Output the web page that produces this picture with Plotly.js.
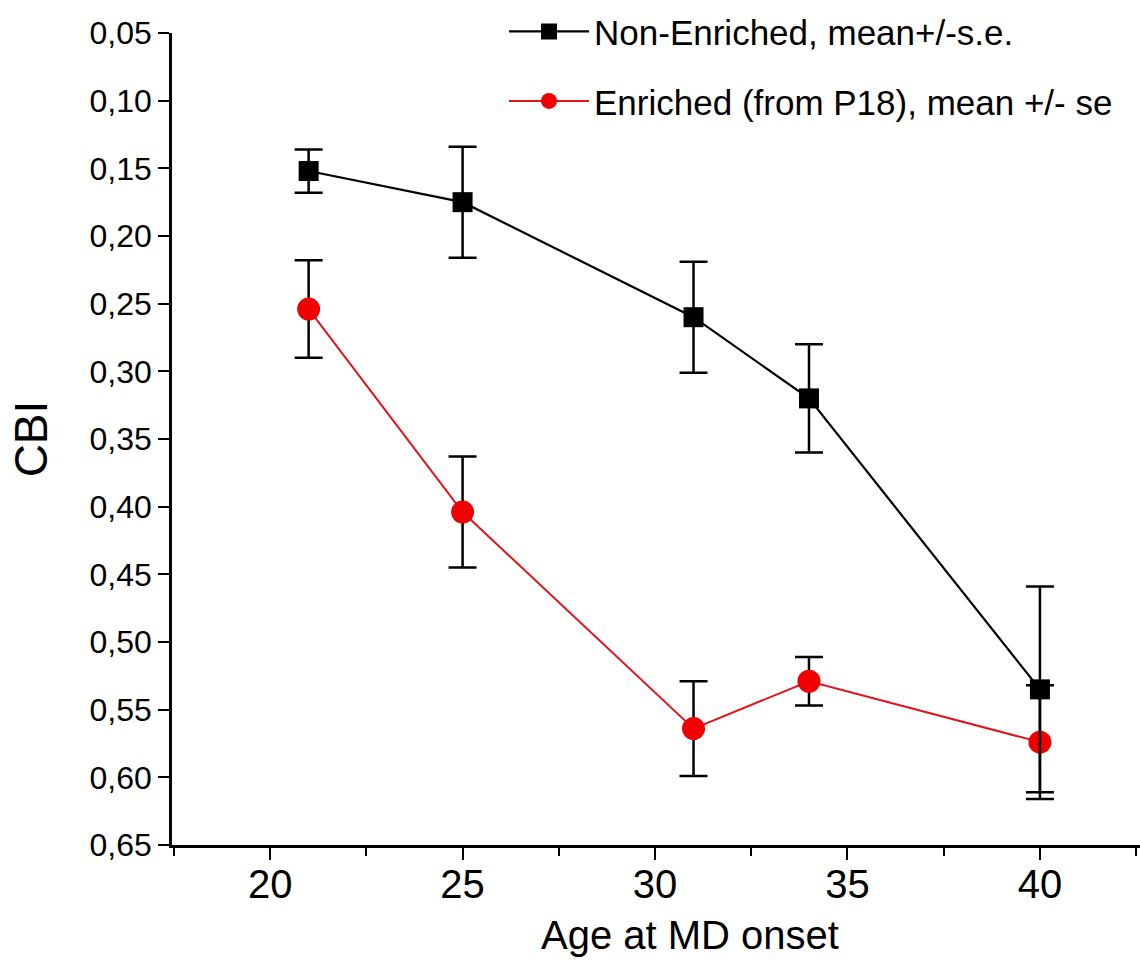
<!DOCTYPE html>
<html>
<head>
<meta charset="utf-8">
<script src="https://cdn.plot.ly/plotly-3.0.1.min.js"></script>
<style>
  html, body { margin: 0; padding: 0; background: #ffffff; }
  #chart { width: 1140px; height: 969px; }
</style>
</head>
<body>
<div id="chart"></div>
<script>
// Age at MD onset (x)
const ageNonEnriched = [21, 25, 31, 34, 40];
const ageEnriched = [21, 25, 31, 34, 40];

// CBI means
const cbiNonEnriched = [0.152, 0.175, 0.260, 0.320, 0.535];
const cbiEnriched = [0.254, 0.404, 0.564, 0.529, 0.574];

// standard errors
const seNonEnriched = [0.016, 0.041, 0.041, 0.040, 0.076];
const seEnriched = [0.036, 0.041, 0.035, 0.018, 0.042];

// labels
const nameNonEnriched = "Non-Enriched, mean+/-s.e.";
const nameEnriched = "Enriched (from P18), mean +/- se";
const xTitle = "Age at MD onset";
const yTitle = "CBI";
const xTickVals = [20, 25, 30, 35, 40];
const yTickVals = [0.05, 0.10, 0.15, 0.20, 0.25, 0.30, 0.35, 0.40, 0.45, 0.50, 0.55, 0.60, 0.65];

const FONT = "Liberation Sans, Arial, Helvetica, sans-serif";

const traceEnriched = {
  x: ageEnriched,
  y: cbiEnriched,
  name: nameEnriched,
  type: "scatter",
  mode: "lines+markers",
  line: { color: "#e0141a", width: 2 },
  marker: { symbol: "circle", size: 23, color: "#f00000" },
  error_y: { type: "data", array: seEnriched, visible: true, color: "#000000", thickness: 2.5, width: 14 },
  legendgroup: "b",
  legendrank: 2
};

const traceNonEnriched = {
  x: ageNonEnriched,
  y: cbiNonEnriched,
  name: nameNonEnriched,
  type: "scatter",
  mode: "lines+markers",
  line: { color: "#000000", width: 2.2 },
  marker: { symbol: "square", size: 20, color: "#000000" },
  error_y: { type: "data", array: seNonEnriched, visible: true, color: "#000000", thickness: 2.5, width: 14 },
  legendgroup: "a",
  legendrank: 1
};

const layout = {
  width: 1140,
  height: 969,
  paper_bgcolor: "#ffffff",
  plot_bgcolor: "#ffffff",
  separators: ",.",
  margin: { l: 172, r: 0, t: 33, b: 124, pad: 0 },
  font: { family: FONT, color: "#000000" },
  showlegend: true,
  legend: {
    x: 0.343, xanchor: "left",
    y: 1.038, yanchor: "top",
    bgcolor: "rgba(0,0,0,0)",
    borderwidth: 0,
    itemwidth: 80,
    font: { family: FONT, size: 35, color: "#000000" },
    traceorder: "grouped",
    tracegroupgap: 21
  },
  xaxis: {
    range: [17.45, 42.6],
    tickvals: xTickVals,
    ticktext: xTickVals.map(String),
    ticks: "outside",
    ticklen: 12,
    tickwidth: 2,
    tickcolor: "#000000",
    minor: { dtick: 2.5, tick0: 20, ticks: "outside", ticklen: 8, tickwidth: 1.5, tickcolor: "#000000", showgrid: false },
    showline: true,
    linecolor: "#000000",
    linewidth: 2.5,
    showgrid: false,
    zeroline: false,
    tickfont: { family: FONT, size: 40, color: "#000000" },
    ticklabelstandoff: -10
  },
  yaxis: {
    range: [0.65, 0.05],
    tickvals: yTickVals,
    tickformat: ".2f",
    ticks: "outside",
    ticklen: 11,
    tickwidth: 2,
    tickcolor: "#000000",
    showline: true,
    linecolor: "#000000",
    linewidth: 2.5,
    showgrid: false,
    zeroline: false,
    tickfont: { family: FONT, size: 32, color: "#000000" },
    title: { text: yTitle, font: { family: FONT, size: 46, color: "#000000" }, standoff: 28 }
  },
  annotations: [
    {
      text: xTitle,
      xref: "paper", yref: "paper",
      x: 0.535, y: -0.111,
      xanchor: "center", yanchor: "middle",
      showarrow: false,
      font: { family: FONT, size: 40, color: "#000000" }
    }
  ]
};

Plotly.newPlot("chart", [traceEnriched, traceNonEnriched], layout, { displayModeBar: false, responsive: false });
</script>
</body>
</html>
